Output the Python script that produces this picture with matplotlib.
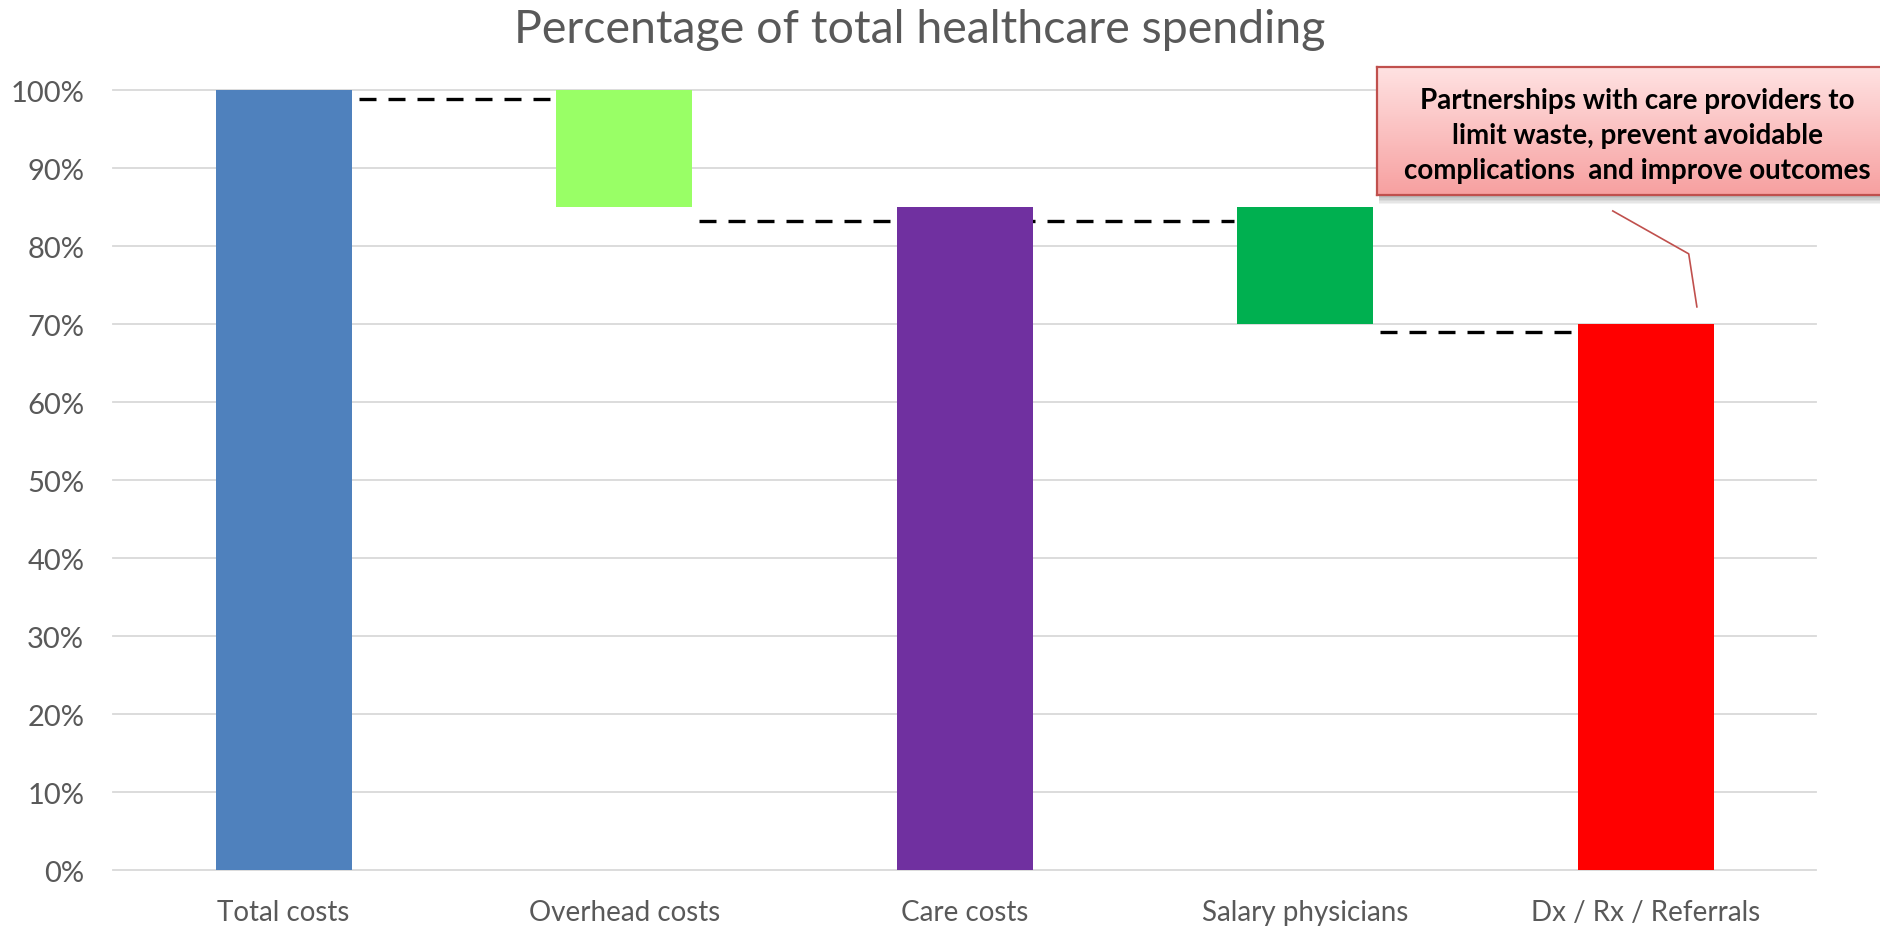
import numpy as np
import matplotlib.pyplot as plt
from matplotlib.patches import Rectangle
from matplotlib.colors import LinearSegmentedColormap

categories = ["Total costs", "Overhead costs", "Care costs", "Salary physicians", "Dx / Rx / Referrals"]
bar_low = [0, 85, 0, 70, 0]
bar_high = [100, 100, 85, 85, 70]
bar_colors = ["#4f81bd", "#99ff66", "#7030a0", "#00b050", "#ff0000"]

# dashed links between the steps of the waterfall
link_from = [0, 1, 3]
link_to = [1, 3, 4]
link_level = [98.9, 83.2, 69.0]

y_ticks = list(range(0, 101, 10))
note = "Partnerships with care providers to\nlimit waste, prevent avoidable\ncomplications  and improve outcomes"

plt.rcParams['font.family'] = ['Lato', 'DejaVu Sans']

fig = plt.figure(figsize=(18.8, 9.29), dpi=100)
ax = fig.add_axes([0.0603, 0.0624, 0.9057, 0.8396])

x = np.arange(len(categories))
heights = np.array(bar_high) - np.array(bar_low)
ax.bar(x, heights, bottom=bar_low, width=0.4, color=bar_colors, zorder=2)

for a, b, lev in zip(link_from, link_to, link_level):
    ax.plot([a + 0.22, b - 0.21], [lev, lev], color='black', lw=2.4,
            dashes=(5.1, 3.6), zorder=1)

ax.set_xlim(-0.5, 4.5)
ax.set_ylim(0, 100)
ax.set_xticks(x)
ax.set_xticklabels(categories)
ax.set_yticks(y_ticks)
ax.set_yticklabels([f"{v}%" for v in y_ticks])
ax.grid(axis='y', color='#d9d9d9', lw=1.3, zorder=0)
for gl in ax.get_ygridlines():
    gl.set_clip_on(False)
ax.set_axisbelow(True)
for s in ax.spines.values():
    s.set_visible(False)
ax.tick_params(axis='y', length=0, colors='#595959', labelsize=21, pad=21)
ax.tick_params(axis='x', length=0, colors='#595959', labelsize=20, pad=21)

fig.text(920 / 1880, 1 - 43 / 929, "Percentage of total healthcare spending",
         ha='center', va='baseline', fontsize=33.5, color='#595959')

# callout box with soft shadow and red gradient
bx_pos = [1377 / 1880, 1 - 196 / 929, 520 / 1880, 128 / 929]
for k in range(6):
    off = (k + 1) * 1.5
    fig.patches.append(Rectangle((bx_pos[0] + 2 / 1880, bx_pos[1] - off / 929),
                                 bx_pos[2], bx_pos[3], transform=fig.transFigure,
                                 color='black', alpha=0.05, lw=0, zorder=4))
bx = fig.add_axes(bx_pos, zorder=5)
grad = np.linspace(0, 1, 256).reshape(-1, 1)
cmap = LinearSegmentedColormap.from_list("callout", ["#ffe2e2", "#f7a0a0"])
bx.imshow(grad, aspect='auto', cmap=cmap, extent=[0, 1, 0, 1], origin='upper')
bx.set_xticks([])
bx.set_yticks([])
for s in bx.spines.values():
    s.set_color('#c0504d')
    s.set_linewidth(1.6)
bx.text(0.5, 0.47, note, ha='center', va='center', fontsize=20,
        fontweight='bold', linespacing=1.42, color='black', transform=bx.transAxes)

ax.plot([3.903, 4.126, 4.150], [84.5, 79.0, 72.2], color='#c0504d', lw=1.2,
        clip_on=False, zorder=3)

fig.savefig("out.png", dpi=100)
